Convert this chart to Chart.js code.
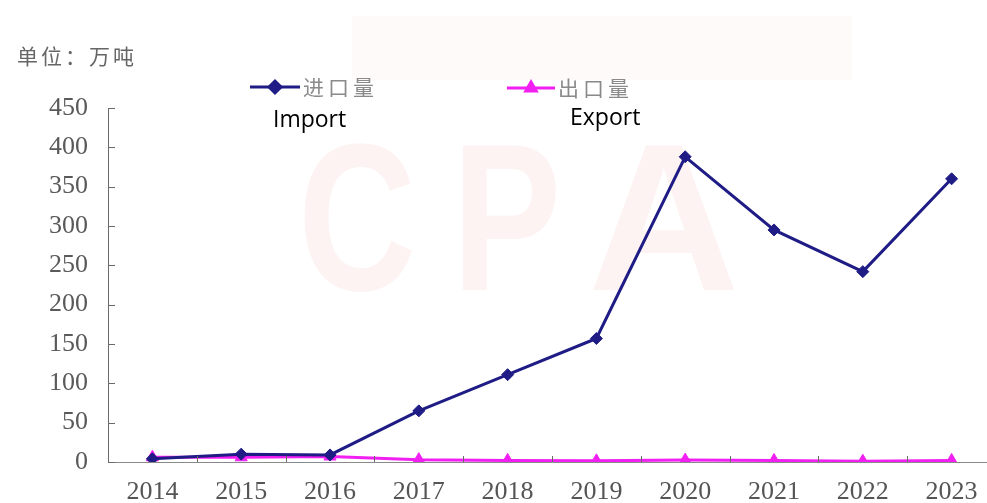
<!DOCTYPE html>
<html>
<head>
<meta charset="utf-8">
<script src="https://cdn.jsdelivr.net/npm/chart.js@4.4.1/dist/chart.umd.min.js"></script>
<style>
  html, body { margin: 0; padding: 0; background: #ffffff; overflow: hidden; }
  #wrap { position: relative; width: 1004px; height: 503px; }
  canvas { display: block; }
</style>
</head>
<body>
<div id="wrap"><canvas id="chart" width="1004" height="503"></canvas></div>
<script>
// Years on the category axis
const years = ['2014', '2015', '2016', '2017', '2018', '2019', '2020', '2021', '2022', '2023'];
// Import volume (万吨)
const importVolume = [4, 10, 9, 65, 111, 157, 388, 295, 242, 360];
// Export volume (万吨)
const exportVolume = [6, 6, 7, 3, 2, 1.5, 2.5, 2, 1, 2];
// Value axis range and step
const yMin = 0;
const yMax = 450;
const yStep = 50;
// Texts
const unitLabel = '单位：万吨';
const seriesNamesCn = ['进口量', '出口量'];
const seriesNamesEn = ['Import', 'Export'];
const markText = ['C', 'P', 'A'];

const IMPORT_COLOR = '#1f1c86';
const EXPORT_COLOR = '#f21ff2';
const NUM_FONT = '"Liberation Serif", "DejaVu Serif", serif';
const CJK_FONT = '"Noto Sans CJK SC", sans-serif';

// Faint background mark behind the plot
const backdrop = {
  id: 'backdrop',
  beforeDatasetsDraw(chart) {
    const ctx = chart.ctx;
    ctx.save();
    ctx.fillStyle = 'rgba(225, 120, 110, 0.04)';
    ctx.fillRect(352, 16, 500, 64);
    ctx.font = 'bold 210px "Liberation Sans", sans-serif';
    ctx.fillStyle = 'rgba(230, 120, 110, 0.09)';
    ctx.textBaseline = 'alphabetic';
    const xs = [298, 452, 588];
    const sx = [0.78, 0.78, 1.0];
    markText.forEach((ch, i) => {
      ctx.save();
      ctx.translate(xs[i], 290);
      ctx.scale(sx[i], 1);
      ctx.fillText(ch, 0, 0);
      ctx.restore();
    });
    ctx.restore();
  }
};

// Inward tick marks on both axes
const innerTicks = {
  id: 'innerTicks',
  afterDatasetsDraw(chart) {
    const ctx = chart.ctx;
    const x = chart.scales.x, y = chart.scales.y;
    const area = chart.chartArea;
    ctx.save();
    ctx.strokeStyle = '#6a6a6a';
    ctx.lineWidth = 1;
    ctx.beginPath();
    for (let v = yMin; v <= yMax; v += yStep) {
      const py = Math.round(y.getPixelForValue(v)) + 0.5;
      ctx.moveTo(area.left, py);
      ctx.lineTo(area.left + 7, py);
    }
    for (let i = 1; i < years.length; i++) {
      const px = Math.round((x.getPixelForValue(i - 1) + x.getPixelForValue(i)) / 2) + 0.5;
      ctx.moveTo(px, area.bottom);
      ctx.lineTo(px, area.bottom - 6);
    }
    ctx.stroke();
    ctx.restore();
  }
};

// Unit caption and two-line legend
const captions = {
  id: 'captions',
  afterDraw(chart) {
    const ctx = chart.ctx;
    const ds = chart.data.datasets;
    ctx.save();
    ctx.textBaseline = 'middle';
    ctx.fillStyle = '#666666';
    ctx.font = '21px ' + CJK_FONT;
    ctx.letterSpacing = '3px';
    ctx.fillText(unitLabel, 17, 56);

    const items = [
      { x0: 250, x1: 300, y: 87, tx: 303, ex: 273, ey: 127 },
      { x0: 507, x1: 555, y: 88, tx: 558, ex: 570, ey: 125 }
    ];
    items.forEach((it, i) => {
      const d = ds[i];
      ctx.strokeStyle = d.borderColor;
      ctx.lineWidth = 3;
      ctx.beginPath();
      ctx.moveTo(it.x0, it.y);
      ctx.lineTo(it.x1, it.y);
      ctx.stroke();
      Chart.helpers.drawPoint(ctx, {
        pointStyle: d.pointStyle, radius: 6, rotation: 0, borderWidth: 1
      }, (it.x0 + it.x1) / 2, it.y);
      ctx.fillStyle = d.backgroundColor;
      ctx.strokeStyle = d.borderColor;
      ctx.lineWidth = 1;
      ctx.fill();
      ctx.stroke();

      ctx.fillStyle = '#8a8a8a';
      ctx.font = '21px ' + CJK_FONT;
      ctx.letterSpacing = '4px';
      ctx.textBaseline = 'middle';
      ctx.fillText(seriesNamesCn[i], it.tx, it.y);

      ctx.fillStyle = '#000000';
      ctx.font = '23px "Open Sans", sans-serif';
      ctx.letterSpacing = '0px';
      ctx.textBaseline = 'alphabetic';
      ctx.fillText(seriesNamesEn[i], it.ex, it.ey);
    });
    ctx.restore();
  }
};

new Chart(document.getElementById('chart'), {
  type: 'line',
  data: {
    labels: years,
    datasets: [
      {
        label: seriesNamesCn[0],
        data: importVolume,
        borderColor: IMPORT_COLOR,
        backgroundColor: IMPORT_COLOR,
        borderWidth: 3,
        pointStyle: 'rectRot',
        pointRadius: 6,
        pointBorderWidth: 1,
        tension: 0
      },
      {
        label: seriesNamesCn[1],
        data: exportVolume,
        borderColor: EXPORT_COLOR,
        backgroundColor: EXPORT_COLOR,
        borderWidth: 3,
        pointStyle: 'triangle',
        pointRadius: 7,
        pointBorderWidth: 1,
        tension: 0
      }
    ]
  },
  options: {
    responsive: false,
    animation: false,
    layout: { padding: { top: 108, left: 0, right: 0, bottom: 0 } },
    plugins: {
      legend: { display: false },
      tooltip: { enabled: false }
    },
    scales: {
      x: {
        offset: true,
        grid: { display: false, drawTicks: false },
        border: { display: true, color: '#8a8a8a', width: 1 },
        ticks: {
          color: '#555555',
          font: { family: NUM_FONT, size: 26 },
          padding: 15,
          maxRotation: 0,
          autoSkip: false
        },
        afterFit(scale) { scale.height = 41; }
      },
      y: {
        min: yMin,
        max: yMax,
        grid: { display: false, drawTicks: false },
        border: { display: true, color: '#6a6a6a', width: 1 },
        ticks: {
          stepSize: yStep,
          color: '#5a5a5a',
          font: { family: NUM_FONT, size: 26 },
          padding: 20
        },
        afterFit(scale) { scale.width = 108; }
      }
    }
  },
  plugins: [backdrop, innerTicks, captions]
});
</script>
</body>
</html>
